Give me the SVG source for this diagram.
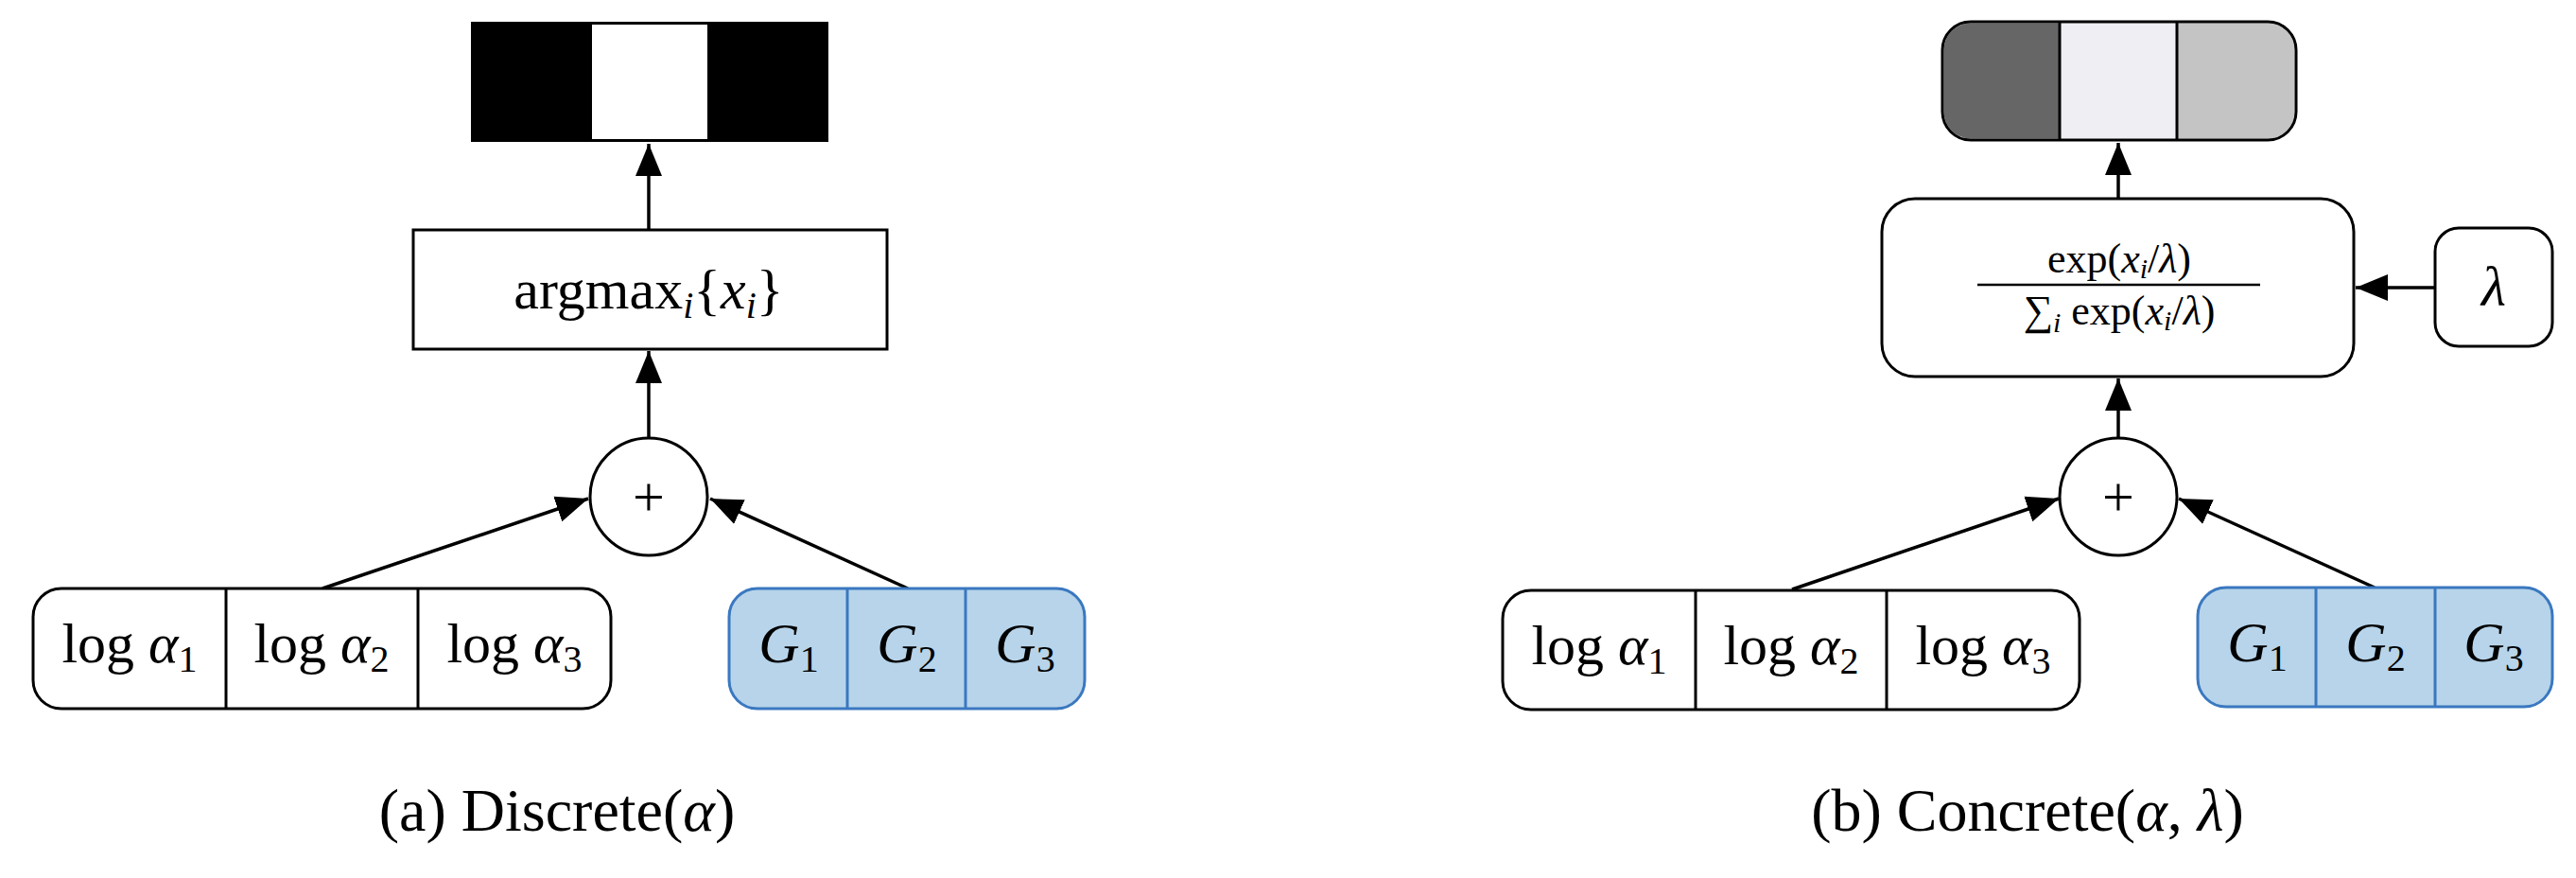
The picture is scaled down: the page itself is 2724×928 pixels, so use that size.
<svg xmlns="http://www.w3.org/2000/svg" width="2724" height="928" viewBox="0 0 2724 928">
<style>
text{font-family:"Liberation Serif","DejaVu Serif",serif;fill:#000;text-anchor:middle}
.m{font-size:60px}.i{font-style:italic}.s{font-size:40px}
.box{fill:#fff;stroke:#000;stroke-width:3}
.g{fill:#b7d4ea;stroke:#3a78c0;stroke-width:3}
.gl{stroke:#3a78c0;stroke-width:3}
.ln{stroke:#000;stroke-width:3}
.c{fill:none;stroke:#000;stroke-width:3.5}
</style>
<defs>
<marker id="h" viewBox="-34 -15 36 30" refX="0" refY="0" markerWidth="36" markerHeight="30" markerUnits="userSpaceOnUse" orient="auto"><path d="M0,0 L-34,-14 L-34,14 z"/></marker></defs>
<g id="connectors">
<line class="c" x1="686" y1="243" x2="686" y2="152" marker-end="url(#h)"/>
<line class="c" x1="686" y1="463" x2="686" y2="371" marker-end="url(#h)"/>
<line class="c" x1="341" y1="622" x2="622" y2="527" marker-end="url(#h)"/>
<line class="c" x1="960" y1="622" x2="751" y2="527" marker-end="url(#h)"/>
<line class="c" x1="2240" y1="210" x2="2240" y2="151" marker-end="url(#h)"/>
<line class="c" x1="2240" y1="463" x2="2240" y2="400" marker-end="url(#h)"/>
<line class="c" x1="2575" y1="304" x2="2491" y2="304" marker-end="url(#h)"/>
<line class="c" x1="1895" y1="623" x2="2177" y2="527" marker-end="url(#h)"/>
<line class="c" x1="2511" y1="621" x2="2304" y2="527" marker-end="url(#h)"/>
</g>
<g id="out-a"><rect x="498" y="23" width="378" height="127" fill="#000"/><rect x="626" y="26" width="122" height="121" fill="#fff"/></g>
<g id="argmax"><rect class="box" x="437" y="243" width="501" height="126"/><text class="m" x="686" y="326">argmax<tspan class="i s" dy="10">i</tspan><tspan dy="-10">{</tspan><tspan class="i">x</tspan><tspan class="i s" dy="10">i</tspan><tspan dy="-10">}</tspan></text></g>
<g id="plus-a"><circle class="box" cx="686" cy="525" r="62"/><text class="m" x="686" y="545">+</text></g>
<g id="logalpha-a"><rect class="box" x="35" y="622" width="611" height="127" rx="30"/><line class="ln" x1="239" y1="622" x2="239" y2="749"/><line class="ln" x1="442" y1="622" x2="442" y2="749"/>
<text class="m" x="137" y="700">log <tspan class="i">α</tspan><tspan class="s" dy="10">1</tspan></text><text class="m" x="340" y="700">log <tspan class="i">α</tspan><tspan class="s" dy="10">2</tspan></text><text class="m" x="544" y="700">log <tspan class="i">α</tspan><tspan class="s" dy="10">3</tspan></text></g>
<g id="gumbel-a"><rect class="g" x="771" y="622" width="376" height="127" rx="30"/><line class="gl" x1="896" y1="622" x2="896" y2="749"/><line class="gl" x1="1021" y1="622" x2="1021" y2="749"/>
<text class="m" x="834" y="700"><tspan class="i">G</tspan><tspan class="s" dy="10">1</tspan></text><text class="m" x="959" y="700"><tspan class="i">G</tspan><tspan class="s" dy="10">2</tspan></text><text class="m" x="1084" y="700"><tspan class="i">G</tspan><tspan class="s" dy="10">3</tspan></text></g>
<text id="cap-a" x="589" y="878" style="font-size:64px">(a) Discrete(<tspan class="i">α</tspan>)</text>
<g id="out-b">
<path d="M2178,24.5 H2084 A28.5,28.5 0 0 0 2055.5,53 V118 A28.5,28.5 0 0 0 2084,146.5 H2178 z" fill="#666"/>
<rect x="2178" y="24.5" width="124" height="122" fill="#efeef2"/>
<path d="M2302,24.5 H2398 A28.5,28.5 0 0 1 2426.5,53 V118 A28.5,28.5 0 0 1 2398,146.5 H2302 z" fill="#c4c4c4"/>
<rect x="2054" y="23" width="374" height="125" rx="30" fill="none" stroke="#000" stroke-width="3"/>
<line class="ln" x1="2178" y1="23" x2="2178" y2="148"/><line class="ln" x1="2302" y1="23" x2="2302" y2="148"/></g>
<g id="softmax"><rect class="box" x="1990" y="210" width="499" height="188" rx="35"/>
<text x="2241" y="288" style="font-size:44px">exp(<tspan class="i">x</tspan><tspan class="i" style="font-size:30px" dy="6">i</tspan><tspan dy="-6">/</tspan><tspan class="i">λ</tspan>)</text>
<line class="ln" x1="2091" y1="301" x2="2390" y2="301" style="stroke-width:2.5"/>
<text x="2241" y="343" style="font-size:44px">∑<tspan class="i" style="font-size:30px" dy="8">i</tspan><tspan dy="-8"> exp(</tspan><tspan class="i">x</tspan><tspan class="i" style="font-size:30px" dy="6">i</tspan><tspan dy="-6">/</tspan><tspan class="i">λ</tspan>)</text></g>
<g id="lambda"><rect class="box" x="2575" y="241" width="124" height="125" rx="25"/><text class="m i" x="2637" y="323">λ</text></g>
<g id="plus-b"><circle class="box" cx="2240" cy="525" r="62"/><text class="m" x="2240" y="545">+</text></g>
<g id="logalpha-b"><rect class="box" x="1589" y="624" width="610" height="126" rx="30"/><line class="ln" x1="1793" y1="624" x2="1793" y2="750"/><line class="ln" x1="1995" y1="624" x2="1995" y2="750"/>
<text class="m" x="1691" y="702">log <tspan class="i">α</tspan><tspan class="s" dy="10">1</tspan></text><text class="m" x="1894" y="702">log <tspan class="i">α</tspan><tspan class="s" dy="10">2</tspan></text><text class="m" x="2097" y="702">log <tspan class="i">α</tspan><tspan class="s" dy="10">3</tspan></text></g>
<g id="gumbel-b"><rect class="g" x="2324" y="621" width="375" height="126" rx="30"/><line class="gl" x1="2449" y1="621" x2="2449" y2="747"/><line class="gl" x1="2575" y1="621" x2="2575" y2="747"/>
<text class="m" x="2387" y="699"><tspan class="i">G</tspan><tspan class="s" dy="10">1</tspan></text><text class="m" x="2512" y="699"><tspan class="i">G</tspan><tspan class="s" dy="10">2</tspan></text><text class="m" x="2637" y="699"><tspan class="i">G</tspan><tspan class="s" dy="10">3</tspan></text></g>
<text id="cap-b" x="2144" y="878" style="font-size:64px">(b) Concrete(<tspan class="i">α</tspan>, <tspan class="i">λ</tspan>)</text>
</svg>
